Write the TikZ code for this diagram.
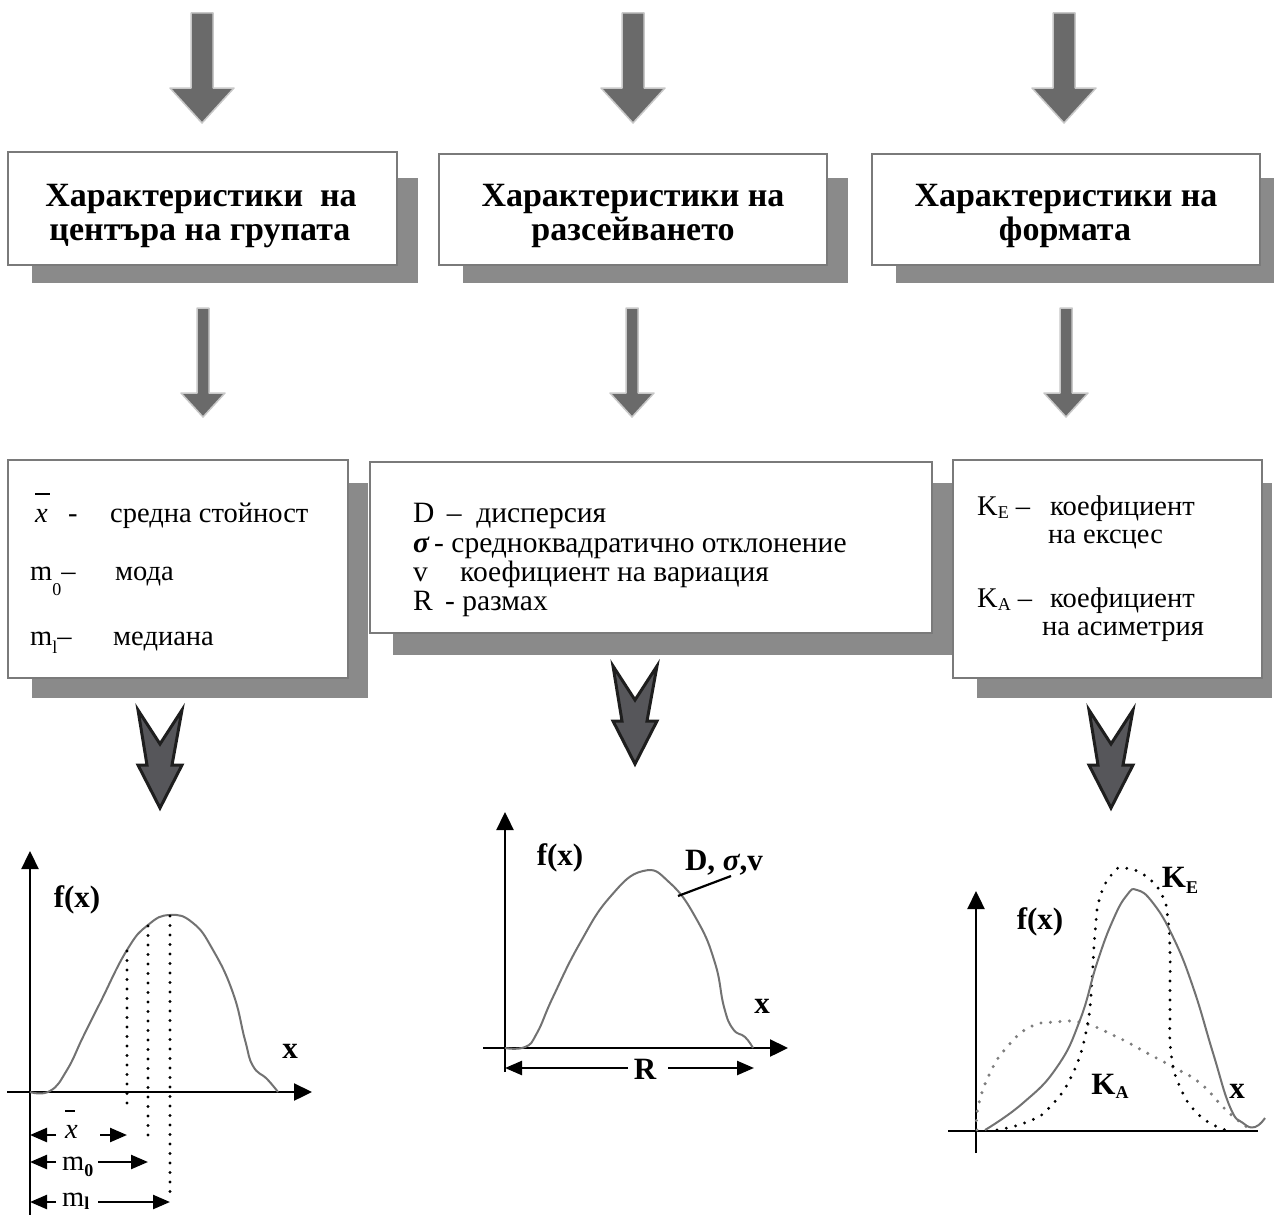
\documentclass[tikz,border=0pt]{standalone}
\usepackage{fontspec}
\setmainfont{Liberation Serif}
\usetikzlibrary{arrows.meta}
\definecolor{arrowgray}{HTML}{6A6A6A}
\definecolor{arrowhalo}{HTML}{C8C8C8}
\definecolor{shadowgray}{HTML}{8A8A8A}
\definecolor{boxedge}{HTML}{7A7A7A}
\definecolor{chevfill}{HTML}{56565A}
\definecolor{chevedge}{HTML}{1E1E1E}
\definecolor{curvegray}{HTML}{727272}
\definecolor{dotgray}{HTML}{7E7E7E}
\newcommand\myBlockDown[6]{\draw[blockarrow] (#1-#5,#2) -- (#1+#5,#2) -- (#1+#5,#3) -- (#1+#6,#3) -- (#1,#4) -- (#1-#6,#3) -- (#1-#5,#3) -- cycle;}
\newcommand\myChevron[2]{\draw[chevron] (#1-22,#2) -- (#1,#2+34) -- (#1+22,#2) -- (#1+12,#2+55) -- (#1+22,#2+55) -- (#1,#2+98) -- (#1-22,#2+55) -- (#1-13,#2+55) -- cycle;}
\newcommand\mySub[2]{\raisebox{-#1pt}{\fontsize{18}{18}\selectfont #2}}
\newcommand\myXbar[3]{{\rlap{\raisebox{#1pt}{\rule{#2pt}{1.6pt}}}\textit{x}}}
\begin{document}
\begin{tikzpicture}[x=1pt,y=-1pt,
  blockarrow/.style={fill=arrowgray, draw=arrowhalo, line width=1.5pt, line join=round},
  chevron/.style={fill=chevfill, draw=chevedge, line width=3pt, line join=miter},
  mainbox/.style={draw=boxedge, line width=2pt, fill=white, inner sep=0pt, rectangle},
  shadowbox/.style={fill=shadowgray, draw=none},
  titletext/.style={font=\bfseries\fontsize{34}{36}\selectfont, anchor=base, inner sep=0pt},
  bodytext/.style={font=\fontsize{28.5}{30}\selectfont, anchor=base west, inner sep=0pt},
  midtext/.style={font=\fontsize{29.5}{30}\selectfont, anchor=base west, inner sep=0pt},
  graphlabel/.style={font=\bfseries\fontsize{31}{32}\selectfont, anchor=base, inner sep=0pt},
  axisline/.style={line width=2.4pt, -{Triangle[length=18pt,width=17pt]}},
  plainaxis/.style={line width=2.4pt},
  dimarrow/.style={line width=2.4pt, -{Triangle[length=17pt,width=14pt]}},
  curveline/.style={draw=curvegray, line width=2pt},
  dotline/.style={line width=3.2pt, line cap=round, dash pattern=on 0pt off 9.5pt},
  dotgrayline/.style={dotgray, line width=3.4pt, line cap=round, dash pattern=on 0pt off 9.5pt}
]
\useasboundingbox (0,0) rectangle (1274,1215);

% ---------- top arrows ----------
\myBlockDown{202}{13}{88}{123}{11}{32}
\myBlockDown{633}{13}{88}{123}{11}{32}
\myBlockDown{1064}{13}{88}{123}{11}{32}

% ---------- top boxes ----------
\fill[shadowbox] (32,178) rectangle (418,283);
\fill[shadowbox] (463,178) rectangle (848,283);
\fill[shadowbox] (896,178) rectangle (1274,283);
\node[mainbox, minimum width=389, minimum height=113] (tl) at (202.5,208.5) {};
\node[mainbox, minimum width=388, minimum height=111] (tm) at (633,209.5) {};
\node[mainbox, minimum width=388, minimum height=111] (tr) at (1066,209.5) {};
\node[titletext] (tl1) at (201,206) {Характеристики\ \ на};
\node[titletext] (tl2) at (200,240) {центъра на групата};
\node[titletext] (tm1) at (633,206) {Характеристики на};
\node[titletext] (tm2) at (633,240) {разсейването};
\node[titletext] (tr1) at (1066,206) {Характеристики на};
\node[titletext] (tr2) at (1065,240) {формата};

% ---------- second arrows ----------
\myBlockDown{203}{308}{393}{417}{6}{22}
\myBlockDown{632}{308}{393}{417}{6}{22}
\myBlockDown{1066}{308}{393}{417}{6}{22}

% ---------- second boxes ----------
\fill[shadowbox] (32,483) rectangle (368,698);
\fill[shadowbox] (393,483) rectangle (952,655);
\fill[shadowbox] (977,483) rectangle (1272,698);
\node[mainbox, minimum width=340, minimum height=218] (bl) at (178,569) {};
\node[mainbox, minimum width=562, minimum height=171] (bm) at (651,547.5) {};
\node[mainbox, minimum width=309, minimum height=218] (br) at (1107.5,569) {};

% left box text
\node[bodytext] (bl1a) at (35,522) {\myXbar{27}{15}{}};
\node[bodytext] (bl1b) at (68,522) {-};
\node[bodytext] (bl1c) at (110,522) {средна стойност};
\node[bodytext] (bl2a) at (30,580) {m\mySub{15}{0}–};
\node[bodytext] (bl2c) at (115,580) {мода};
\node[bodytext] (bl3a) at (30,645) {m\mySub{8}{l}–};
\node[bodytext] (bl3c) at (113,645) {медиана};

% middle box text
\node[midtext] (bm1) at (413,522) {D\,\ –\ \ дисперсия};
\node[midtext] (bm2a) at (413,552) {\textbf{\textit{σ}}};
\node[midtext] (bm2b) at (434,552) {- средноквадратично отклонение};
\node[midtext] (bm3a) at (413,581) {v};
\node[midtext] (bm3b) at (460,581) {коефициент на вариация};
\node[midtext] (bm4) at (413,610) {R\, - размах};

% right box text
\node[bodytext] (br1a) at (977,515) {K\mySub{3}{E}\ –};
\node[bodytext] (br1b) at (1050,515) {коефициент};
\node[bodytext] (br2) at (1048,543) {на ексцес};
\node[bodytext] (br3a) at (977,607) {K\mySub{3}{A}\ –};
\node[bodytext] (br3b) at (1050,607) {коефициент};
\node[bodytext] (br4) at (1042,635) {на асиметрия};

% ---------- chevrons ----------
\myChevron{160}{710}
\myChevron{635}{666}
\myChevron{1111}{710}

% ---------- left graph ----------
\coordinate (lyb) at (30,1215);
\coordinate (lyt) at (30,851);
\coordinate (lxl) at (7,1092);
\coordinate (lxr) at (312,1092);
\draw[axisline] (lyb) -- (lyt);
\draw[axisline] (lxl) -- (lxr);
\draw[curveline] plot[smooth, tension=0.8] coordinates {(30,1092) (50,1091) (67,1070) (83,1037) (100,1003) (127,950) (148,925) (170,915) (193,923) (213,950) (233,993) (245,1040) (253,1066) (267,1079) (278,1092)};
\coordinate (d1t) at (127,951);
\coordinate (d1b) at (127,1110);
\coordinate (d2t) at (148,926);
\coordinate (d2b) at (148,1142);
\coordinate (d3t) at (170,916);
\coordinate (d3b) at (170,1193);
\draw[dotline] (d1t) -- (d1b);
\draw[dotline] (d2t) -- (d2b);
\draw[dotline] (d3t) -- (d3b);
\node[graphlabel] (lfx) at (77,907) {f(x)};
\node[graphlabel] (lx) at (290,1058) {x};
% dimension rows
\node[bodytext] (dxt) at (65,1138) {\myXbar{26}{10}{}};
\node[bodytext] (dm0) at (62,1170) {m\mySub{6}{\bfseries 0}};
\node[bodytext] (dm1) at (62,1206) {m\mySub{3}{\bfseries l}};
\coordinate (a1l) at (56,1135);
\coordinate (a1r) at (100,1135);
\coordinate (a2l) at (56,1162);
\coordinate (a2r) at (98,1162);
\coordinate (a3l) at (56,1202);
\coordinate (a3r) at (98,1202);
\draw[dimarrow] (a1l) -- (a1l -| lyb);
\draw[dimarrow] (a1r) -- (a1r -| d1b);
\draw[dimarrow] (a2l) -- (a2l -| lyb);
\draw[dimarrow] (a2r) -- (a2r -| d2b);
\draw[dimarrow] (a3l) -- (a3l -| lyb);
\draw[dimarrow] (a3r) -- (a3r -| d3b);

% ---------- middle graph ----------
\coordinate (myb) at (505,1072);
\coordinate (myt) at (505,812);
\coordinate (mxl) at (483,1048);
\coordinate (mxr) at (788,1048);
\draw[axisline] (myb) -- (myt);
\draw[axisline] (mxl) -- (mxr);
\draw[curveline] plot[smooth, tension=0.8] coordinates {(505,1048) (525,1047) (537,1033) (553,997) (580,943) (610,897) (643,871) (670,883) (697,920) (715,963) (724,1007) (733,1029) (745,1037) (753,1048)};
\coordinate (lnA) at (678,896);
\coordinate (lnB) at (731,876);
\draw[line width=2.2pt] (lnA) -- (lnB);
\node[graphlabel] (mlab) at (724,870) {D,\ \textit{σ},v};
\node[graphlabel] (mfx) at (560,865) {f(x)};
\node[graphlabel] (mx) at (762,1013) {x};
\node[graphlabel] (mR) at (645,1079) {R};
\coordinate (Rl) at (628,1068);
\coordinate (Rr) at (668,1068);
\draw[dimarrow] (Rl) -- (Rl -| myb);
\draw[dimarrow] (Rr) -- (754,1068);

% ---------- right graph ----------
\coordinate (ryb) at (976,1153);
\coordinate (ryt) at (976,891);
\coordinate (rxl) at (948,1131);
\coordinate (rxr) at (1258,1131);
\draw[axisline] (ryb) -- (ryt);
\draw[plainaxis] (rxl) -- (rxr);
\draw[dotgrayline] plot[smooth, tension=0.8] coordinates {(977,1130) (978,1107) (990,1073) (1007,1047) (1030,1027) (1055,1022) (1083,1023) (1117,1037) (1147,1053) (1173,1067) (1200,1083) (1223,1107) (1240,1122) (1252,1130)};
\draw[dotline] plot[smooth, tension=0.8] coordinates {(997,1130) (1027,1122) (1050,1107) (1073,1073) (1087,1027) (1092,980) (1095,933) (1100,897) (1113,873) (1125,868) (1147,877) (1163,897) (1168,920) (1170,953) (1170,1007) (1171,1053) (1180,1087) (1197,1113) (1220,1128) (1233,1130)};
\draw[curveline] plot[smooth, tension=0.8] coordinates {(985,1130) (1023,1103) (1057,1067) (1080,1020) (1097,963) (1113,920) (1127,895) (1137,890) (1153,903) (1173,937) (1193,987) (1213,1053) (1230,1107) (1243,1123) (1255,1127) (1265,1118)};
\node[graphlabel] (rfx) at (1040,929) {f(x)};
\node[graphlabel] (rKE) at (1180,887) {K\mySub{6}{\bfseries E}};
\node[graphlabel] (rKA) at (1110,1094) {K\mySub{4}{\bfseries A}};
\node[graphlabel] (rx) at (1237,1098) {x};
\end{tikzpicture}
\end{document}
